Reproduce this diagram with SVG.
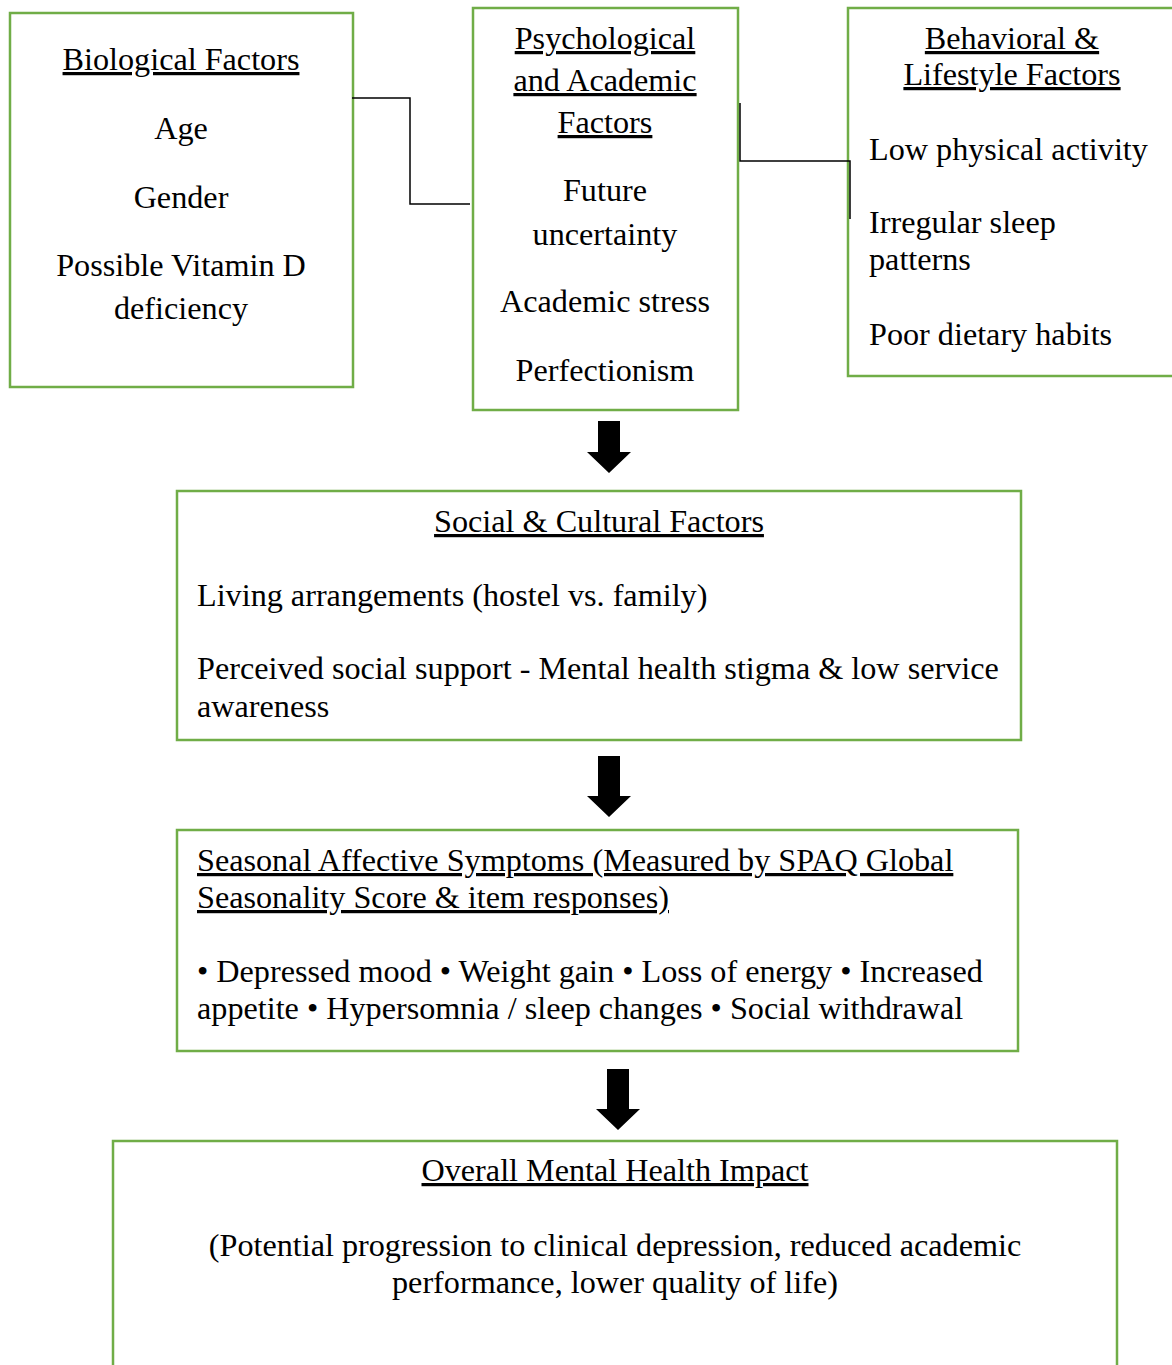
<svg xmlns="http://www.w3.org/2000/svg" width="1172" height="1365" viewBox="0 0 1172 1365">
<style>
.box{fill:#fff;stroke:#70AD47;stroke-width:2.5}
text{font-family:"Liberation Serif","Times New Roman",serif;font-size:32.2px;fill:#000}
.c{text-anchor:middle}
.u{text-decoration:underline}
.conn{fill:none;stroke:#000;stroke-width:1.5}
.arr{fill:#000}
</style>
<rect width="1172" height="1365" fill="#fff"/>
<g id="biological">
<rect class="box" x="10" y="13" width="343" height="374"/>
<text class="c u" x="181" y="70">Biological Factors</text>
<text class="c" x="181" y="139">Age</text>
<text class="c" x="181" y="208">Gender</text>
<text class="c" x="181" y="276">Possible Vitamin D</text>
<text class="c" x="181" y="319">deficiency</text>
</g>
<g id="psychological">
<rect class="box" x="473" y="8" width="265" height="402"/>
<text class="c u" x="605" y="49">Psychological</text>
<text class="c u" x="605" y="91">and Academic</text>
<text class="c u" x="605" y="133">Factors</text>
<text class="c" x="605" y="201">Future</text>
<text class="c" x="605" y="245">uncertainty</text>
<text class="c" x="605" y="312">Academic stress</text>
<text class="c" x="605" y="381">Perfectionism</text>
</g>
<g id="behavioral">
<rect class="box" x="848" y="8" width="330" height="368"/>
<text class="c u" x="1012" y="49">Behavioral &amp;</text>
<text class="c u" x="1012" y="85">Lifestyle Factors</text>
<text x="869" y="160">Low physical activity</text>
<text x="869" y="233">Irregular sleep</text>
<text x="869" y="270">patterns</text>
<text x="869" y="345">Poor dietary habits</text>
</g>
<g id="social">
<rect class="box" x="177" y="491" width="844" height="249"/>
<text class="c u" x="599" y="532">Social &amp; Cultural Factors</text>
<text x="197" y="606">Living arrangements (hostel vs. family)</text>
<text x="197" y="679">Perceived social support - Mental health stigma &amp; low service</text>
<text x="197" y="717">awareness</text>
</g>
<g id="seasonal">
<rect class="box" x="177" y="830" width="841" height="221"/>
<text class="u" x="197" y="871">Seasonal Affective Symptoms (Measured by SPAQ Global</text>
<text class="u" x="197" y="908">Seasonality Score &amp; item responses)</text>
<text x="197" y="982">• Depressed mood • Weight gain • Loss of energy • Increased</text>
<text x="197" y="1019">appetite • Hypersomnia / sleep changes • Social withdrawal</text>
</g>
<g id="overall">
<rect class="box" x="113" y="1141" width="1004" height="240"/>
<text class="c u" x="615" y="1181">Overall Mental Health Impact</text>
<text class="c" x="615" y="1256">(Potential progression to clinical depression, reduced academic</text>
<text class="c" x="615" y="1293">performance, lower quality of life)</text>
</g>
<g id="connectors">
<polyline class="conn" points="352,98 410,98 410,204 470,204"/>
<polyline class="conn" points="740,103 740,161 850,161 850,219"/>
<polygon class="arr" points="598,421 620,421 620,452 631,452 609,473 587,452 598,452"/>
<polygon class="arr" points="598,756 620,756 620,796 631,796 609,817 587,796 598,796"/>
<polygon class="arr" points="607,1069 629,1069 629,1109 640,1109 618,1130 596,1109 607,1109"/>
</g>
</svg>
